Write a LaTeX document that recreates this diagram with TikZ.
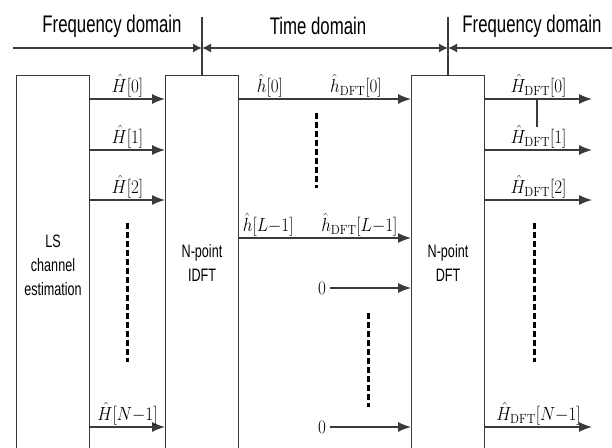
\RequirePackage{fix-cm}
\documentclass[tikz,border=0pt]{standalone}
\usepackage{amsmath}
\usepackage{fontspec}
\usepackage{tikz}
\usetikzlibrary{arrows.meta}
\newfontfamily\domfont[FakeStretch=0.7]{Liberation Sans}
\definecolor{linec}{HTML}{3A3A3A}
\newcommand{\hdft}{\hat{h}_{\mathrm{DFT}}}
\newcommand{\Hdft}{\hat{H}_{\mathrm{DFT}}}
\newcommand{\chdots}[3]{\draw[vdots] (#1,#2) -- (#1,#3);}

\tikzset{
  blk/.style={draw=linec, line width=1.3pt, minimum width=70pt, text width=66pt,
    align=center, anchor=north, font=\domfont\fontsize{18}{24}\selectfont},
  sig/.style={draw=linec, line width=1.3pt, -{Latex[length=13pt,width=10pt]}},
  hdr/.style={draw=linec, line width=1.3pt},
  lab/.style={font=\fontsize{19}{22}\selectfont, inner sep=1pt, xscale=0.9},
  dom/.style={font=\domfont\fontsize{24}{26}\selectfont},
  vdots/.style={line width=3pt, dash pattern=on 6pt off 3pt},
}

\begin{document}
\begin{tikzpicture}[x=1pt,y=-1pt]
    \useasboundingbox (0,0) rectangle (612,447);
    \clip (0,0) rectangle (612,447);

    % blocks
    \node[blk, minimum height=380pt] (ls) at (53,75) {LS\\channel\\estimation};
    \node[blk, minimum height=374pt] (idft) at (202,75) {N-point\\IDFT};
    \node[blk, minimum height=374pt] (dft) at (448,75) {N-point\\DFT};

    % rows
    \coordinate (r0) at (0,99);
    \coordinate (r1) at (0,150);
    \coordinate (r2) at (0,200);
    \coordinate (rL) at (0,238);
    \coordinate (rN) at (0,427);
    \coordinate (rend) at (592,0);

    % domains
    \coordinate (dl) at (13,48);
    \coordinate (dr) at (612,48);
    \coordinate (ta) at (idft.north |- dl);
    \coordinate (tb) at (dft.north |- dl);
    \draw[hdr] (idft.north) -- ++(0,-58);
    \draw[hdr] (dft.north) -- ++(0,-58);
    \draw[hdr, -{Latex[length=9pt,width=9pt]}] (dl) -- (ta);
    \draw[hdr, {Latex[length=9pt,width=9pt]}-{Latex[length=9pt,width=9pt]}] (ta) -- (tb);
    \draw[hdr, {Latex[length=9pt,width=9pt]}-] (tb) -- (dr);
    \node[dom] (fl) at (112,26) {Frequency domain};
    \node[dom] (tm) at (318,26) {Time domain};
    \node[dom] (fr) at (532,26) {Frequency domain};

    % LS -> IDFT
    \foreach \r/\t in {r0/0,r1/1,r2/2,rN/N{-}1}
      \draw[sig] (ls.east |- \r) -- node[lab, above] {$\hat{H}[\t]$} (idft.west |- \r);

    % IDFT -> DFT
    \draw[sig] (idft.east |- r0) -- node[lab, above, pos=0.18] {$\hat{h}[0]$}
      node[lab, above, pos=0.68] {$\hdft[0]$} (dft.west |- r0);
    \draw[sig] (idft.east |- rL) -- node[lab, above, pos=0.17] {$\hat{h}[L{-}1]$}
      node[lab, above, pos=0.7] {$\hdft[L{-}1]$} (dft.west |- rL);
    \node[lab, inner sep=4pt] (z1) at (322,288) {$0$};
    \node[lab, inner sep=4pt] (z2) at (322,427) {$0$};
    \draw[sig] (z1.east) -- (dft.west |- z1);
    \draw[sig] (z2.east) -- (dft.west |- z2);

    % DFT outputs
    \foreach \r/\t in {r0/0,r1/1,r2/2,rN/N{-}1}
      \draw[sig] (dft.east |- \r) -- node[lab, above] {$\Hdft[\t]$} (rend |- \r);
    \draw[hdr] (537,99) -- (537,127);

    \chdots{127}{223}{362}
    \chdots{316}{113}{188}
    \chdots{368}{313}{407}
    \chdots{534}{223}{362}
\end{tikzpicture}
\end{document}
